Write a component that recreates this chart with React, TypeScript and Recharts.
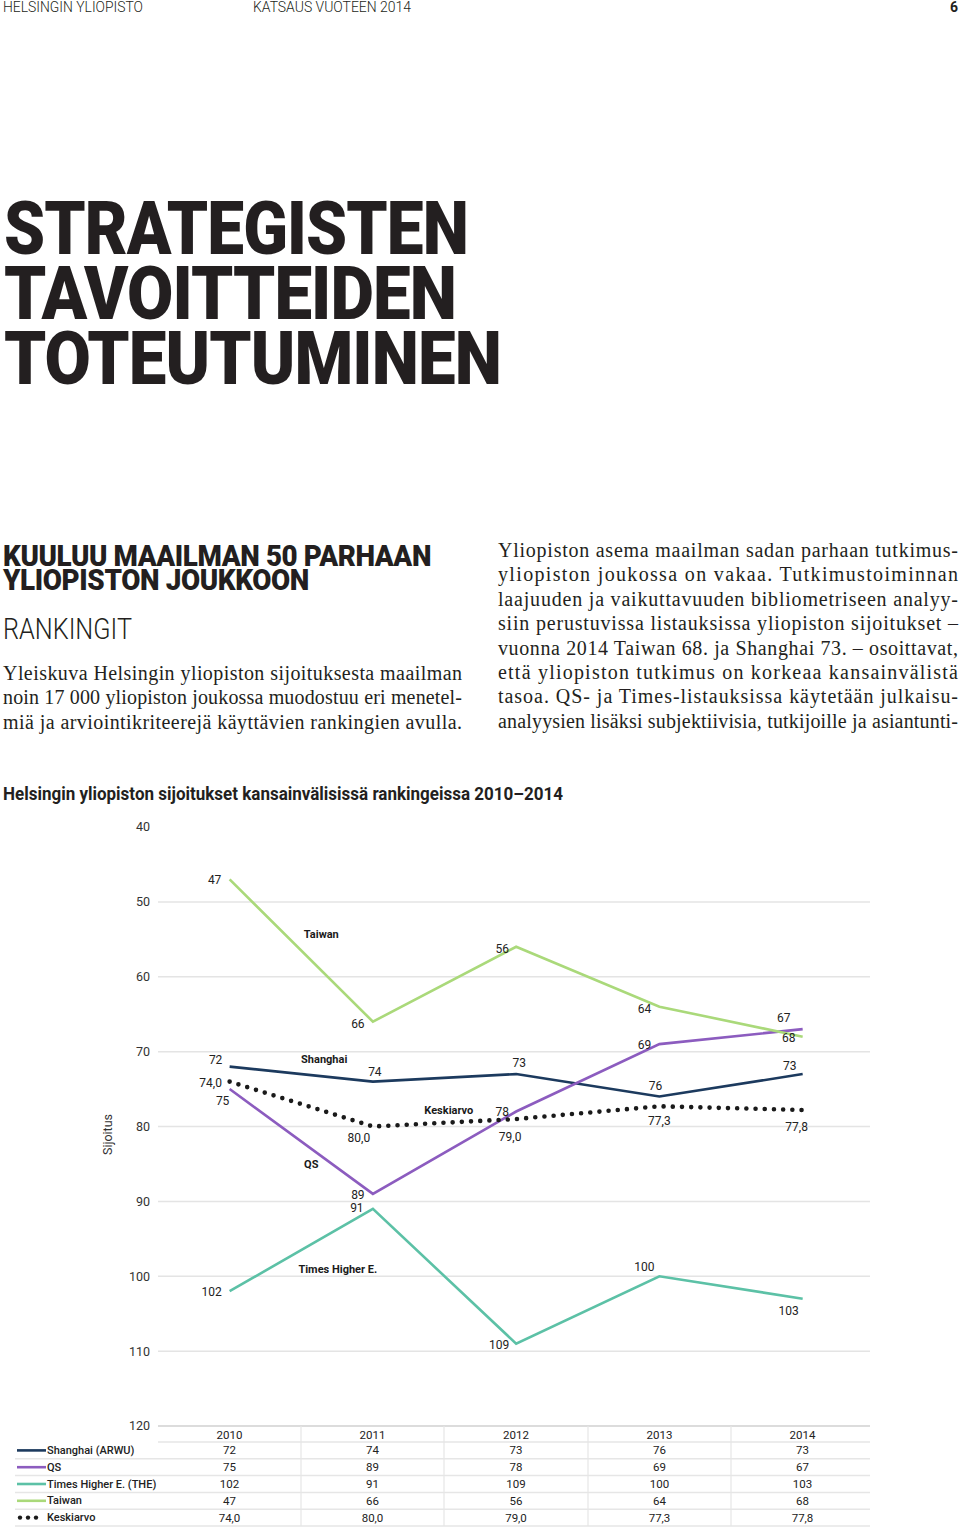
import React from "react";
import { LineChart, Line, XAxis, YAxis, ReferenceLine, ReferenceDot, LabelList } from "recharts";

// --- data (ranking positions) ---
const years = ["2010", "2011", "2012", "2013", "2014"];
const shanghai = [72, 74, 73, 76, 73];
const qs = [75, 89, 78, 69, 67];
const times = [102, 91, 109, 100, 103];
const taiwan = [47, 66, 56, 64, 68];
const keskiarvo = [74.0, 80.0, 79.0, 77.3, 77.8];
const yTicks = [40, 50, 60, 70, 80, 90, 100, 110, 120];
const gridValues = [50, 60, 70, 80, 90, 100, 110];

// series name tags placed in data units (x = year index, y = rank)
const tags = [
  { text: "Taiwan", at: 0.64, rank: 54.3 },
  { text: "Shanghai", at: 0.66, rank: 71.0 },
  { text: "QS", at: 0.57, rank: 85.0 },
  { text: "Keskiarvo", at: 1.53, rank: 77.8 },
  { text: "Times Higher E.", at: 0.755, rank: 99.0 },
];

const rows = years.map((year, i) => ({
  i,
  year,
  shanghai: shanghai[i],
  qs: qs[i],
  times: times[i],
  taiwan: taiwan[i],
  keskiarvo: keskiarvo[i],
}));

const SANS = "Roboto, 'Noto Sans', sans-serif";
const SERIF = "'Liberation Serif', 'DejaVu Serif', serif";
const INK = "#231f20";

type Series = {
  key: string;
  name: string;
  color: string;
  values: number[];
  decimals?: boolean;
  dotted?: boolean;
  offsets: [number, number][];
};

// label offsets (label centre relative to point)
const series: Series[] = [
  {
    key: "shanghai", name: "Shanghai (ARWU)", color: "#1c3a5e", values: shanghai,
    offsets: [[-14, -7], [2, -10], [3, -11], [-4, -11], [-13, -8]],
  },
  {
    key: "qs", name: "QS", color: "#8c5cbf", values: qs,
    offsets: [[-7, 12], [-15, 1], [-14, 0], [-15, 1], [-19, -11]],
  },
  {
    key: "times", name: "Times Higher E. (THE)", color: "#5cc1a6", values: times,
    offsets: [[-18, 1], [-16, -1], [-17, 1], [-15, -9], [-14, 12]],
  },
  {
    key: "taiwan", name: "Taiwan", color: "#aad97a", values: taiwan,
    offsets: [[-15, 1], [-15, 2], [-14, 2], [-15, 2], [-14, 1]],
  },
  {
    key: "keskiarvo", name: "Keskiarvo", color: "#1a1a1a", values: keskiarvo, decimals: true, dotted: true,
    offsets: [[-19, 1], [-14, 11], [-6, 18], [0, 15], [-6, 17]],
  },
];

const fmt = (v: number, dec?: boolean) => (dec ? v.toFixed(1).replace(".", ",") : String(v));

function valueLabel(s: Series) {
  return (p: any) => {
    const { x, y, value, index } = p;
    const [dx, dy] = s.offsets[index] || [0, -10];
    return (
      <text
        x={x + dx}
        y={y + dy}
        textAnchor="middle"
        dominantBaseline="central"
        fontSize={12}
        fontFamily={SANS}
        fill="#222"
      >
        {fmt(value, s.decimals)}
      </text>
    );
  };
}

function RankChart() {
  return (
    <LineChart width={960} height={640} data={rows} margin={{ top: 27, right: 90, bottom: 14, left: 98 }}>
      <XAxis type="number" dataKey="i" domain={[-0.5, 4.47]} hide />
      <YAxis
        reversed
        domain={[40, 120]}
        ticks={yTicks}
        interval={0}
        width={60}
        axisLine={false}
        tickLine={false}
        tick={{ fontSize: 12.5, fill: "#333", fontFamily: SANS }}
        label={{
          value: "Sijoitus",
          angle: -90,
          position: "insideLeft",
          offset: 10,
          dy: 8,
          style: { textAnchor: "middle", fontSize: 12.5, fill: "#333", fontFamily: SANS },
        }}
      />
      {gridValues.map((v) => (
        <ReferenceLine key={v} y={v} stroke="#e4e4e4" strokeWidth={1.5} />
      ))}
      {series.map((s) => (
        <Line
          key={s.key}
          dataKey={s.key}
          type="linear"
          stroke={s.color}
          strokeWidth={s.dotted ? 4.6 : 2.6}
          strokeDasharray={s.dotted ? "0 9.2" : undefined}
          strokeLinecap={s.dotted ? "round" : "butt"}
          dot={false}
          activeDot={false}
          isAnimationActive={false}
        >
          <LabelList dataKey={s.key} content={valueLabel(s)} />
        </Line>
      ))}
      {tags.map((t) => (
        <ReferenceDot
          key={t.text}
          x={t.at}
          y={t.rank}
          r={1}
          fill="none"
          stroke="none"
          label={{
            value: t.text,
            position: "center",
            fill: "#1a1a1a",
            fontSize: 11,
            fontWeight: 700,
            fontFamily: SANS,
          }}
        />
      ))}
    </LineChart>
  );
}

const colEdges = [158, 301, 444, 588, 731, 870];
const rowTop = 6;
const headH = 16;
const rowH = 16.8;

function RankTable() {
  return (
    <svg width={960} height={112} style={{ position: "absolute", left: 0, top: 1420 }}>
      <line x1={158} x2={870} y1={rowTop} y2={rowTop} stroke="#dcdcdc" strokeWidth={2} />
      {colEdges.slice(1, -1).map((x) => (
        <line key={x} x1={x} x2={x} y1={rowTop} y2={rowTop + headH + rowH * 5} stroke="#e6e6e6" strokeWidth={1.2} />
      ))}
      {[0, 1, 2, 3, 4, 5].map((k) => (
        <line
          key={k}
          x1={k === 0 ? 158 : 15}
          x2={870}
          y1={rowTop + headH + rowH * k}
          y2={rowTop + headH + rowH * k}
          stroke="#e6e6e6"
          strokeWidth={1.5}
        />
      ))}
      {years.map((y, i) => (
        <text
          key={y}
          x={(colEdges[i] + colEdges[i + 1]) / 2 + (i === 4 ? 2 : 0)}
          y={rowTop + headH / 2 + 1}
          textAnchor="middle"
          dominantBaseline="central"
          fontSize={11.5}
          fontFamily={SANS}
          fill="#222"
        >
          {y}
        </text>
      ))}
      {series.map((s, r) => {
        const cy = rowTop + headH + rowH * r + rowH / 2;
        return (
          <g key={s.key}>
            {s.dotted ? (
              [20, 28, 36].map((cx) => <circle key={cx} cx={cx} cy={cy} r={2.2} fill={s.color} />)
            ) : (
              <line x1={17} x2={46} y1={cy} y2={cy} stroke={s.color} strokeWidth={2.6} />
            )}
            <text x={47} y={cy} dominantBaseline="central" fontSize={11} fontWeight={500} fontFamily={SANS} fill="#222">
              {s.name}
            </text>
            {s.values.map((v, i) => (
              <text
                key={i}
                x={(colEdges[i] + colEdges[i + 1]) / 2 + (i === 4 ? 2 : 0)}
                y={cy}
                textAnchor="middle"
                dominantBaseline="central"
                fontSize={11.5}
                fontFamily={SANS}
                fill="#222"
              >
                {fmt(v, s.decimals)}
              </text>
            ))}
          </g>
        );
      })}
    </svg>
  );
}

type FitProps = {
  x: number;
  y: number;
  w: number;
  size: number;
  weight?: number;
  family?: string;
  spacing?: number;
  adjust?: "spacing" | "spacingAndGlyphs";
  children: string;
};

function Fit({ x, y, w, size, weight = 400, family = SANS, spacing = 0, adjust = "spacingAndGlyphs", children }: FitProps) {
  return (
    <text
      x={x}
      y={y}
      textLength={w}
      lengthAdjust={adjust}
      fontSize={size}
      fontWeight={weight}
      fontFamily={family}
      letterSpacing={spacing}
      fill={INK}
    >
      {children}
    </text>
  );
}

const leftPara = [
  "Yleiskuva Helsingin yliopiston sijoituksesta maailman",
  "noin 17 000 yliopiston joukossa muodostuu eri menetel-",
  "miä ja arviointikriteerejä käyttävien rankingien avulla.",
];

const rightPara = [
  "Yliopiston asema maailman sadan parhaan tutkimus-",
  "yliopiston joukossa on vakaa. Tutkimustoiminnan",
  "laajuuden ja vaikuttavuuden bibliometriseen analyy-",
  "siin perustuvissa listauksissa yliopiston sijoitukset –",
  "vuonna 2014 Taiwan 68. ja Shanghai 73. – osoittavat,",
  "että yliopiston tutkimus on korkeaa kansainvälistä",
  "tasoa. QS- ja Times-listauksissa käytetään julkaisu-",
  "analyysien lisäksi subjektiivisia, tutkijoille ja asiantunti-",
];

function TopText() {
  return (
    <svg width={960} height={810} style={{ position: "absolute", left: 0, top: 0 }}>
      <Fit x={3} y={12} w={140} size={14} weight={300}>HELSINGIN YLIOPISTO</Fit>
      <Fit x={253} y={12} w={158} size={14} weight={300}>KATSAUS VUOTEEN 2014</Fit>
      <text x={958} y={12} textAnchor="end" fontSize={14} fontWeight={700} fontFamily={SANS} fill={INK}>6</text>

      <Fit x={4} y={254} w={464} size={75} weight={900} spacing={-1}>STRATEGISTEN</Fit>
      <Fit x={4} y={319} w={452} size={75} weight={900} spacing={-1}>TAVOITTEIDEN</Fit>
      <Fit x={4} y={384} w={497} size={75} weight={900} spacing={-1}>TOTEUTUMINEN</Fit>

      <Fit x={3} y={566} w={428} size={29} weight={900} spacing={-0.4}>KUULUU MAAILMAN 50 PARHAAN</Fit>
      <Fit x={3} y={590} w={306} size={29} weight={900} spacing={-0.4}>YLIOPISTON JOUKKOON</Fit>
      <Fit x={3} y={639} w={129} size={29} weight={300}>RANKINGIT</Fit>

      {leftPara.map((t, k) => (
        <Fit key={k} x={3} y={680 + k * 24.4} w={459} size={20} family={SERIF} adjust="spacing">{t}</Fit>
      ))}
      {rightPara.map((t, k) => (
        <Fit key={k} x={498} y={557 + k * 24.4} w={460} size={20} family={SERIF} adjust="spacing">{t}</Fit>
      ))}

      <Fit x={3} y={800} w={560} size={18} weight={700}>Helsingin yliopiston sijoitukset kansainvälisissä rankingeissa 2010–2014</Fit>
    </svg>
  );
}

export default function App() {
  return (
    <div style={{ position: "absolute", left: 0, top: 0, width: 960, height: 1529, background: "#fff", overflow: "hidden" }}>
      <TopText />
      <div style={{ position: "absolute", left: 0, top: 800 }}>
        <RankChart />
      </div>
      <RankTable />
    </div>
  );
}
